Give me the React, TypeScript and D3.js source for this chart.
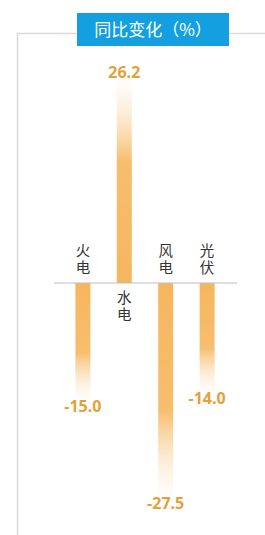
import React from "react";
import * as d3 from "d3";

const categories = ["火电", "水电", "风电", "光伏"];
const values = [-15.0, 26.2, -27.5, -14.0];
const title = "同比变化（%）";

const W = 265;
const H = 535;

export default function App() {
  const x = d3.scaleBand<string>().domain(categories).range([68, 222]).paddingInner(0.64).paddingOuter(0.18);
  const y = d3.scaleLinear().domain([0, 26.2]).range([283, 80]);
  const bw = 15;
  const fmt = (v: number) => d3.format(".1f")(v).replace("\u2212", "-");
  return (
    <svg width={W} height={H} style={{ position: "absolute", left: 0, top: 0, background: "#fff" }}>
      <defs>
        <linearGradient id="gDown" x1="0" y1="0" x2="0" y2="1">
          <stop offset="0%" stopColor="#f6b65e" />
          <stop offset="60%" stopColor="#f7be6e" />
          <stop offset="100%" stopColor="#fdf1e2" stopOpacity="0.2" />
        </linearGradient>
        <linearGradient id="gUp" x1="0" y1="1" x2="0" y2="0">
          <stop offset="0%" stopColor="#f6b65e" />
          <stop offset="60%" stopColor="#f7be6e" />
          <stop offset="100%" stopColor="#fdf1e2" stopOpacity="0.2" />
        </linearGradient>
      </defs>
      <path d={`M17.5,535 L17.5,33.5 L265,33.5`} fill="none" stroke="#d9d9d9" strokeWidth={1.5} />
      <rect x={77} y={13} width={152} height={33} fill="#139fe0" />
      <text x={153} y={35.5} textAnchor="middle" fill="#fff" fontSize={17}
        fontFamily="'Noto Sans CJK SC', 'Noto Sans', sans-serif">{title}</text>
      {categories.map((c, i) => {
        const v = values[i];
        const cx = (x(c) as number) + x.bandwidth() / 2;
        const y0 = y(0);
        const y1 = y(v);
        const top = Math.min(y0, y1);
        const h = Math.abs(y1 - y0);
        return (
          <g key={c}>
            <rect x={cx - bw / 2} y={top} width={bw} height={h} fill={v < 0 ? "url(#gDown)" : "url(#gUp)"} />
            <text x={cx} y={v < 0 ? y1 + 13 : y1 - 2} textAnchor="middle" fill="#e5a03a" fontSize={16}
              fontWeight={700} fontFamily="'Open Sans', 'Noto Sans', sans-serif">{fmt(v)}</text>
            <text x={cx} y={v < 0 ? y0 - 5 : y0 + 7} writingMode="vertical-rl"
              textAnchor={v < 0 ? "end" : "start"} fill="#333" fontSize={14.5} letterSpacing={3}
              fontFamily="'Noto Sans CJK SC', sans-serif">{c}</text>
          </g>
        );
      })}
      <line x1={54} x2={237} y1={y(0)} y2={y(0)} stroke="#bdbdbd" strokeWidth={1} />
    </svg>
  );
}
